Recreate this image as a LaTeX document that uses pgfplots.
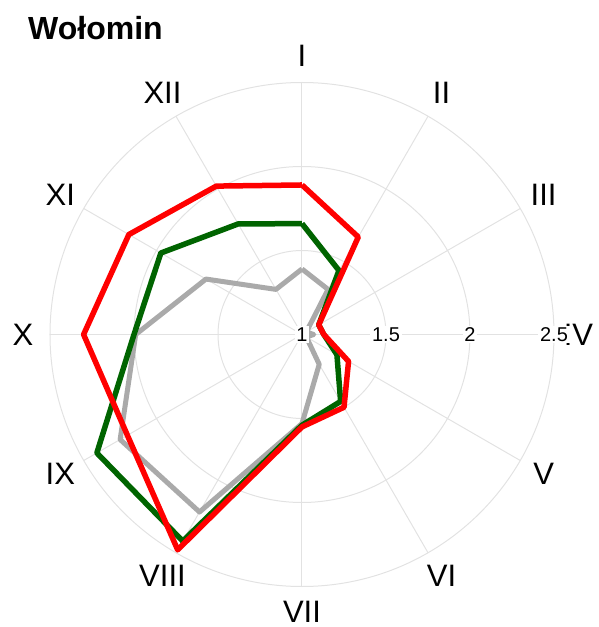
\documentclass[border=0pt]{standalone}
\usepackage{fontspec}
\setmainfont{Liberation Sans}
\usepackage{pgfplots}
\pgfplotsset{compat=1.18}
\usepackage{pgfplotstable}

\definecolor{gridc}{HTML}{E2E2E2}
\definecolor{greyline}{HTML}{AAAAAA}
\definecolor{greenline}{HTML}{006400}
\definecolor{redline}{HTML}{FF0000}

\pgfplotstableread{
m grey green red
1 1.39 1.66 1.89
2 1.31 1.44 1.67
3 1.03 1.115 1.115
4 1.07 1.13 1.13
5 1.03 1.24 1.32
6 1.205 1.46 1.50
7 1.53 1.54 1.55
8 2.22 2.42 2.48
9 2.25 2.41 2.20
10 1.99 2.00 2.30
11 1.66 1.97 2.19
12 1.31 1.76 2.02
13 1.39 1.66 1.89
}\datatable

\begin{document}
\begin{tikzpicture}
\path[use as bounding box] (-302pt,334.5pt) rectangle (296pt,-292.5pt);
% grid
\foreach \r in {84,168,252} \draw[gridc, line width=1pt] (0,0) circle (\r pt);
\foreach \a in {0,30,...,330} \draw[gridc, line width=1pt] (0,0) -- (\a:252pt);
\begin{axis}[
  anchor=origin, at={(0pt,0pt)},
  x=168pt, y=168pt,
  xmin=-1.6, xmax=1.6, ymin=-1.6, ymax=1.6,
  hide axis, clip=false,
]
\addplot[greyline, line width=5pt, line join=round, no marks]
  table[x expr={(\thisrow{grey}-1)*cos(90-30*(\thisrow{m}-1))},
        y expr={(\thisrow{grey}-1)*sin(90-30*(\thisrow{m}-1))}] {\datatable};
\addplot[greenline, line width=5.5pt, line join=round, no marks]
  table[x expr={(\thisrow{green}-1)*cos(90-30*(\thisrow{m}-1))},
        y expr={(\thisrow{green}-1)*sin(90-30*(\thisrow{m}-1))}] {\datatable};
\addplot[redline, line width=5.5pt, line join=round, no marks]
  table[x expr={(\thisrow{red}-1)*cos(90-30*(\thisrow{m}-1))},
        y expr={(\thisrow{red}-1)*sin(90-30*(\thisrow{m}-1))}] {\datatable};
\end{axis}
% angular labels
\foreach \a/\t in {90/I,60/II,30/III,-30/V,-60/VI,-120/VIII,-150/IX,180/X,150/XI,120/XII}
  \node[font=\fontsize{31}{36}\selectfont, inner sep=0pt] at (\a:279pt) {\t};
\node[font=\fontsize{31}{36}\selectfont, inner sep=0pt] at (0:276.5pt) {IV};
\node[font=\fontsize{31}{36}\selectfont, inner sep=0pt] at (-90:277pt) {VII};
% radial labels
\foreach \r/\t in {0/1,84/1.5,168/2,252/2.5}
  \node[font=\fontsize{20}{23}\selectfont, fill=white, inner sep=1.8pt] at (\r pt,0) {\t};
% title
\node[anchor=base west, inner sep=0pt, font=\bfseries\fontsize{32}{38}\selectfont] at (-274pt,294.5pt) {Wołomin};
\end{tikzpicture}
\end{document}
